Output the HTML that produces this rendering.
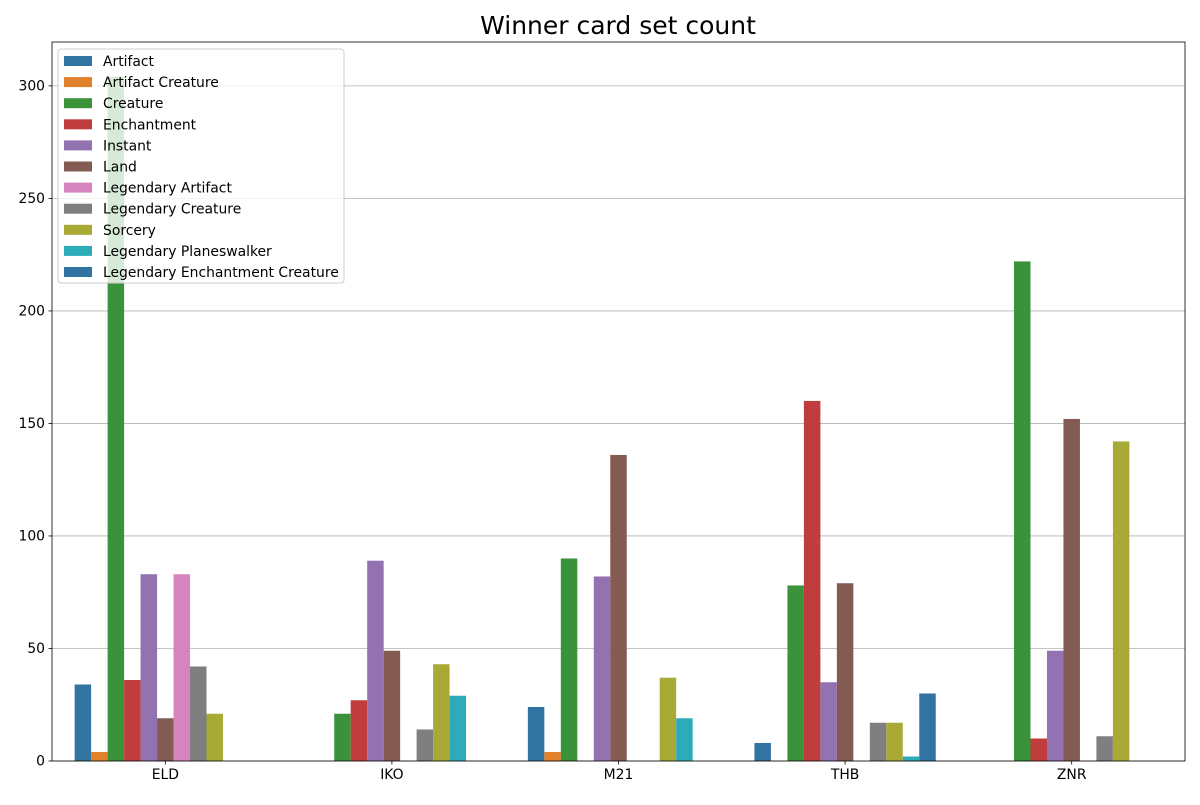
<!DOCTYPE html>
<html><head><meta charset="utf-8"><style>
body{margin:0;background:#fff;font-family:"Liberation Sans","DejaVu Sans",sans-serif}
</style></head><body>
<svg id="chart" width="1200" height="800" xmlns="http://www.w3.org/2000/svg" font-family="DejaVu Sans, Liberation Sans, sans-serif">
<rect width="1200" height="800" fill="#fff"/>
<text x="618" y="34" text-anchor="middle" font-size="25">Winner card set count</text>
<g id="grid"></g><g id="bars"></g><g id="axes"></g><g id="legend"></g>
</svg>
<script>
const categories=["ELD","IKO","M21","THB","ZNR"];
const seriesNames=["Artifact","Artifact Creature","Creature","Enchantment","Instant","Land","Legendary Artifact","Legendary Creature","Sorcery","Legendary Planeswalker","Legendary Enchantment Creature"];
const artifact=[34,0,24,8,0];
const artifactCreature=[4,0,4,0,0];
const creature=[304,21,90,78,222];
const enchantment=[36,27,0,160,10];
const instant=[83,89,82,35,49];
const land=[19,49,136,79,152];
const legendaryArtifact=[83,0,0,0,0];
const legendaryCreature=[42,14,0,17,11];
const sorcery=[21,43,37,17,142];
const legendaryPlaneswalker=[0,29,19,2,0];
const legendaryEnchantmentCreature=[0,0,0,30,0];
const yTicks=[0,50,100,150,200,250,300];
const series=[artifact,artifactCreature,creature,enchantment,instant,land,legendaryArtifact,legendaryCreature,sorcery,legendaryPlaneswalker,legendaryEnchantmentCreature];
const colors=["#3274a1","#e1812c","#3a923a","#c03d3e","#9372b2","#845b53","#d684bd","#7f7f7f","#a9aa35","#2eabb8","#3274a1"];
const NS="http://www.w3.org/2000/svg";
const L=52,R=1185,T=42,B=761;
const yMax=319.5;
const y=v=>B-(v/yMax)*(B-T);
const step=(R-L)/categories.length;
const x=i=>L+step*(i+0.5);
const bw=step*0.8/seriesNames.length;
function mk(tag,attrs,parent){const e=document.createElementNS(NS,tag);for(const k in attrs)e.setAttribute(k,attrs[k]);parent.appendChild(e);return e;}
const grid=document.getElementById('grid'),bars=document.getElementById('bars'),axes=document.getElementById('axes'),leg=document.getElementById('legend');
yTicks.forEach(t=>{
 const g=mk('line',{x1:L,x2:R,y1:y(t),y2:y(t),stroke:'#b0b0b0','stroke-width':0.8},grid);
 
 
 mk('line',{x1:L-3.5,x2:L,y1:y(t),y2:y(t),stroke:'#000','stroke-width':0.8},axes);
 const tx=mk('text',{x:L-7,y:y(t)+4.5,'text-anchor':'end','font-size':13.9},axes);
 tx.textContent=t;
 
 
});
categories.forEach((c,i)=>{
 mk('line',{x1:x(i),x2:x(i),y1:B,y2:B+3.5,stroke:'#000','stroke-width':0.8},axes);
 const tx=mk('text',{x:x(i),y:B+18,'text-anchor':'middle','font-size':13.9},axes);
 tx.textContent=c;
 
 
 series.forEach((s,j)=>{
  const v=s[i]; if(!v)return;
  const bx=x(i)-step*0.4+j*bw;
  const r=mk('rect',{x:bx,y:y(v),width:bw,height:B-y(v),fill:colors[j]},bars);
  
  
 });
});
const fr=mk('rect',{x:L,y:T,width:R-L,height:B-T,fill:'none',stroke:'#000','stroke-width':0.8},axes);


const lb=mk('rect',{x:58,y:49,width:286,height:234,rx:3,fill:'#fff','fill-opacity':0.8,stroke:'#ccc'},leg);


seriesNames.forEach((n,j)=>{
 const yy=61+j*21.1;
 const p=mk('rect',{x:64,y:yy-5,width:28,height:10,fill:colors[j]},leg);
 
 
 const t=mk('text',{x:103,y:yy+5,'font-size':13.9},leg);
 t.textContent=n;
 
 
});
</script>
</body></html>
